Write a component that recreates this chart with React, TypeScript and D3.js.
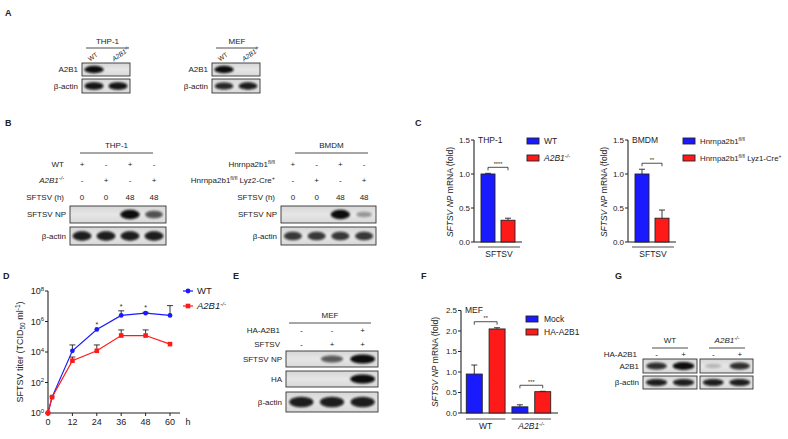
import * as d3 from 'd3';

const FONT = '"Liberation Sans", Arial, sans-serif';
const BLUE = '#1a1aff';
const RED = '#ff1a1a';
const INK = '#222';

// A: knockout check
const aLanes = ['WT', 'A2B1'];
const aThpA2B1 = [1, 0];
const aThpActin = [0.95, 0.95];
const aMefA2B1 = [1, 0];
const aMefActin = [0.85, 0.9];

// B: infection blots
const bWt = ['+', '-', '+', '-'];
const bKo = ['-', '+', '-', '+'];
const bHours = ['0', '0', '48', '48'];
const bThpNP = [0, 0, 1, 0.6];
const bThpActin = [0.9, 0.9, 0.9, 0.9];
const bBmdmNP = [0, 0, 1, 0.2];
const bBmdmActin = [0.75, 0.75, 0.75, 0.75];

// C: qPCR
const cGroup = 'SFTSV';
const cTicks = [0, 0.5, 1.0, 1.5];
const cThpMean = [1.0, 0.32];
const cThpErr = [0.01, 0.03];
const cThpStars = '****';
const cBmdmMean = [1.0, 0.35];
const cBmdmErr = [0.07, 0.12];
const cBmdmStars = '**';

// D: titer time course
const dHours = [0, 2, 12, 24, 36, 48, 60];
const dWt = [1, 11, 1.2e4, 3e5, 2.5e6, 3.5e6, 2.5e6];
const dWtUpper = [null, null, 2.9e4, null, 5e6, 4e6, 1.1e7];
const dKo = [1, 11, 2.7e3, 1.2e4, 1.2e5, 1.2e5, 3.3e4];
const dKoUpper = [null, null, 4.7e3, 2.9e4, 2.8e5, 2.8e5, null];
const dStarHours = [24, 36, 48];
const dXTicks = [0, 12, 24, 36, 48, 60];
const dYExp = [0, 2, 4, 6, 8];

// E: overexpression blot
const eHaA2B1 = ['-', '-', '+'];
const eSftsv = ['-', '+', '+'];
const eNP = [0, 0.55, 1];
const eHA = [0, 0, 1];
const eActin = [0.9, 0.9, 0.9];

// F: rescue qPCR
const fGroups = ['WT', 'A2B1'];
const fSeries = ['Mock', 'HA-A2B1'];
const fMock = [0.95, 0.15];
const fMockErr = [0.22, 0.05];
const fHa = [2.05, 0.52];
const fHaErr = [0.03, 0.01];
const fTicks = [0, 0.5, 1.0, 1.5, 2.0, 2.5];
const fStars = ['**', '***'];

// G: rescue blot
const gHa = ['-', '+'];
const gWtA2B1 = [0.8, 1];
const gKoA2B1 = [0.04, 0.8];
const gWtActin = [0.9, 0.9];
const gKoActin = [0.9, 0.9];

const laneScale = (x0: number, x1: number, n: number) =>
  d3.scaleBand<number>().domain(d3.range(n)).range([x0, x1]).paddingInner(0.08).paddingOuter(0.04);

const KO = ({ size = 5.5 }: { size?: number }) => (
  <tspan fontStyle="italic">A2B1<tspan dy={-3} fontSize={size}>-/-</tspan></tspan>
);

function Blot({ x, y, w, h, values, label }: any) {
  const lane = laneScale(x, x + w, values.length);
  const bw = lane.bandwidth();
  return (
    <g>
      <rect x={x} y={y} width={w} height={h} fill="url(#blotBg)" stroke="#333" strokeWidth={0.9} />
      {values.map((v: number, i: number) =>
        v > 0 ? (
          <ellipse key={i} cx={lane(i)! + bw / 2} cy={y + h / 2} rx={bw * (0.34 + 0.1 * v)} ry={h * (0.13 + 0.15 * v)}
            fill="#080808" opacity={Math.min(1, 0.2 + 0.8 * v)} filter="url(#bandBlur)" />
        ) : null
      )}
      {label && <text x={x - 4} y={y + h / 2} dy="0.35em" textAnchor="end">{label}</text>}
    </g>
  );
}

function SignRow({ x, w, y, signs, label }: any) {
  const lane = laneScale(x, x + w, signs.length);
  return (
    <g>
      {signs.map((s: string, i: number) => (
        <text key={i} x={lane(i)! + lane.bandwidth() / 2} y={y} dy="0.35em" textAnchor="middle">{s}</text>
      ))}
      {label && <text x={x - 6} y={y} dy="0.35em" textAnchor="end">{label}</text>}
    </g>
  );
}

function Header({ x1, x2, y, gap = 5, children }: any) {
  return (
    <g>
      <text x={(x1 + x2) / 2} y={y} textAnchor="middle">{children}</text>
      <line x1={x1} x2={x2} y1={y + gap} y2={y + gap} stroke={INK} strokeWidth={0.8} />
    </g>
  );
}

function Bracket({ x1, x2, y, stars }: any) {
  return (
    <g>
      <path d={`M${x1},${y + 3}V${y}H${x2}V${y + 3}`} fill="none" stroke={INK} strokeWidth={0.8} />
      <text x={(x1 + x2) / 2} y={y - 1.5} textAnchor="middle" fontSize={5.5}>{stars}</text>
    </g>
  );
}

function ErrBar({ x, y0, y1 }: any) {
  return <path d={`M${x},${y0}V${y1}M${x - 3},${y1}H${x + 3}`} stroke={INK} strokeWidth={0.9} fill="none" />;
}

function YLabel({ x, cy }: any) {
  return (
    <text transform={`translate(${x},${cy}) rotate(-90)`} textAnchor="middle" fontSize={8.5}>
      <tspan fontStyle="italic">SFTSV NP</tspan> mRNA (fold)
    </text>
  );
}

function FoldBars({ x0, title, means, errs, stars, legend, legendX, legendSize = 8.5 }: any) {
  const y = d3.scaleLinear().domain([0, 1.5]).range([242, 140]);
  const xb = d3.scaleBand<number>().domain([0, 1]).range([x0, x0 + 48]).paddingInner(0.3).paddingOuter(0.35);
  const colors = [BLUE, RED];
  const cx = (i: number) => xb(i)! + xb.bandwidth() / 2;
  const top = Math.max(...means.map((m: number, i: number) => m + errs[i]));
  return (
    <g>
      <YLabel x={x0 - 21} cy={192} />
      <line x1={x0} x2={x0} y1={y(1.5)} y2={y(0)} stroke={INK} strokeWidth={1.1} />
      <line x1={x0} x2={x0 + 48} y1={y(0)} y2={y(0)} stroke={INK} strokeWidth={1.1} />
      {cTicks.map((t) => (
        <g key={t}>
          <line x1={x0 - 3} x2={x0} y1={y(t)} y2={y(t)} stroke={INK} strokeWidth={1} />
          <text x={x0 - 4} y={y(t)} dy="0.35em" textAnchor="end" fontSize={8}>{d3.format('.1f')(t)}</text>
        </g>
      ))}
      <text x={x0 + 4} y={y(1.5)} dy="0.35em" fontSize={8.5}>{title}</text>
      {means.map((m: number, i: number) => (
        <g key={i}>
          <ErrBar x={cx(i)} y0={y(m)} y1={y(m + errs[i])} />
          <rect x={xb(i)} y={y(m)} width={xb.bandwidth()} height={y(0) - y(m)} fill={colors[i]} stroke={INK} strokeWidth={0.9} />
        </g>
      ))}
      <Bracket x1={cx(0)} x2={cx(1)} y={y(top) - 6} stars={stars} />
      <line x1={x0 + 4} x2={x0 + 46} y1={247} y2={247} stroke={INK} strokeWidth={0.8} />
      <text x={x0 + 25} y={257} textAnchor="middle" fontSize={8.5}>{cGroup}</text>
      {legend.map((lab: any, i: number) => (
        <g key={i} transform={`translate(${legendX},${141 + i * 17})`}>
          <rect x={0} y={-3} width={12} height={6} fill={colors[i]} stroke={INK} strokeWidth={0.9} />
          <text x={17} y={0} dy="0.35em" fontSize={legendSize}>{lab}</text>
        </g>
      ))}
    </g>
  );
}

function TiterChart() {
  const x = d3.scaleLinear().domain([0, 60]).range([48, 170]);
  const y = d3.scaleLog().domain([1, 1e8]).range([413, 291]);
  const line = d3.line<number>().x((_, i) => x(dHours[i])).y((v) => y(v));
  const series = [
    { vals: dWt, up: dWtUpper, color: BLUE, shape: 'circle' },
    { vals: dKo, up: dKoUpper, color: RED, shape: 'square' },
  ];
  return (
    <g>
      <text transform="translate(23,352) rotate(-90)" textAnchor="middle" fontSize={9}>
        SFTSV titer (TCID<tspan dy={2} fontSize={6.5}>50</tspan><tspan dy={-2}> ml</tspan>
        <tspan dy={-3} fontSize={6.5}>-1</tspan><tspan dy={3}>)</tspan>
      </text>
      <line x1={48} x2={48} y1={y(1e8)} y2={y(1)} stroke={INK} strokeWidth={1.1} />
      <line x1={48} x2={180} y1={y(1)} y2={y(1)} stroke={INK} strokeWidth={1.1} />
      {dYExp.map((e) => (
        <g key={e}>
          <line x1={45} x2={48} y1={y(10 ** e)} y2={y(10 ** e)} stroke={INK} />
          <text x={44} y={y(10 ** e)} dy="0.35em" textAnchor="end" fontSize={9}>
            10<tspan dy={-3.5} fontSize={6}>{e}</tspan>
          </text>
        </g>
      ))}
      {dXTicks.map((t) => (
        <g key={t}>
          <line x1={x(t)} x2={x(t)} y1={y(1)} y2={y(1) + 3} stroke={INK} />
          <text x={x(t)} y={y(1) + 12} textAnchor="middle" fontSize={9}>{t}</text>
        </g>
      ))}
      <text x={188} y={y(1) + 12} textAnchor="middle" fontSize={9}>h</text>
      {series.map((s, si) => (
        <g key={si}>
          {s.up.map((u, i) =>
            u ? <ErrBar key={i} x={x(dHours[i])} y0={y(s.vals[i])} y1={y(u)} /> : null
          )}
          <path d={line(s.vals)!} fill="none" stroke={s.color} strokeWidth={1.2} />
          {s.vals.map((v, i) =>
            s.shape === 'circle' ? (
              <circle key={i} cx={x(dHours[i])} cy={y(v)} r={2.4} fill={s.color} />
            ) : (
              <rect key={i} x={x(dHours[i]) - 2.3} y={y(v) - 2.3} width={4.6} height={4.6} fill={s.color} />
            )
          )}
        </g>
      ))}
      {dStarHours.map((h) => {
        const i = dHours.indexOf(h);
        const top = dWtUpper[i] ?? dWt[i];
        return <text key={h} x={x(h)} y={y(top) - 2} textAnchor="middle" fontSize={7}>*</text>;
      })}
      {series.map((s, si) => (
        <g key={si} transform={`translate(183,${291 + si * 15})`}>
          <line x1={0} x2={10} stroke={s.color} strokeWidth={1.2} />
          {s.shape === 'circle' ? <circle cx={5} r={2.4} fill={s.color} /> : <rect x={2.7} y={-2.3} width={4.6} height={4.6} fill={s.color} />}
          <text x={14} dy="0.35em" fontSize={9.5}>{si === 0 ? 'WT' : <KO size={6} />}</text>
        </g>
      ))}
    </g>
  );
}

function RescueBars() {
  const y = d3.scaleLinear().domain([0, 2.5]).range([413, 310.5]);
  const x0 = d3.scaleBand<string>().domain(fGroups).range([464, 553]).paddingInner(0.05);
  const x1 = d3.scaleBand<string>().domain(fSeries).range([0, x0.bandwidth()]).paddingInner(0.3).paddingOuter(0.1);
  const colors = [BLUE, RED];
  const vals = [fMock, fHa];
  const errs = [fMockErr, fHaErr];
  return (
    <g>
      <YLabel x={438} cy={362} />
      <line x1={461} x2={461} y1={y(2.5)} y2={y(0)} stroke={INK} strokeWidth={1.1} />
      <line x1={461} x2={558} y1={y(0)} y2={y(0)} stroke={INK} strokeWidth={1.1} />
      {fTicks.map((t) => (
        <g key={t}>
          <line x1={458} x2={461} y1={y(t)} y2={y(t)} stroke={INK} />
          <text x={457} y={y(t)} dy="0.35em" textAnchor="end" fontSize={8}>{d3.format('.1f')(t)}</text>
        </g>
      ))}
      <text x={465} y={y(2.5)} dy="0.35em" fontSize={8.5}>MEF</text>
      {fGroups.map((g, gi) => {
        const cx = (si: number) => x0(g)! + x1(fSeries[si])! + x1.bandwidth() / 2;
        const top = Math.max(fMock[gi] + fMockErr[gi], fHa[gi] + fHaErr[gi]);
        return (
          <g key={g}>
            {fSeries.map((s, si) => (
              <g key={s}>
                <ErrBar x={cx(si)} y0={y(vals[si][gi])} y1={y(vals[si][gi] + errs[si][gi])} />
                <rect x={x0(g)! + x1(s)!} y={y(vals[si][gi])} width={x1.bandwidth()} height={y(0) - y(vals[si][gi])}
                  fill={colors[si]} stroke={INK} strokeWidth={0.9} />
              </g>
            ))}
            <Bracket x1={cx(0)} x2={cx(1)} y={y(top) - 6} stars={fStars[gi]} />
            <line x1={x0(g)! + 2} x2={x0(g)! + x0.bandwidth() - 2} y1={419} y2={419} stroke={INK} strokeWidth={0.8} />
            <text x={x0(g)! + x0.bandwidth() / 2} y={429} textAnchor="middle" fontSize={8.5}>
              {gi === 0 ? g : <KO />}
            </text>
          </g>
        );
      })}
      {fSeries.map((s, si) => (
        <g key={s} transform={`translate(526,${319 + si * 13})`}>
          <rect x={0} y={-3} width={12} height={6} fill={colors[si]} stroke={INK} strokeWidth={0.9} />
          <text x={18} dy="0.35em" fontSize={8.5}>{s}</text>
        </g>
      ))}
    </g>
  );
}

export default function App() {
  const aThp = laneScale(82, 130, 2);
  const aMef = laneScale(212, 260, 2);
  return (
    <svg width={788} height={439} style={{ position: 'absolute', left: 0, top: 0, background: '#fff' }}
      fontFamily={FONT} fontSize={8} fill={INK}>
      <defs>
        <filter id="bandBlur" x="-30%" y="-80%" width="160%" height="260%">
          <feGaussianBlur stdDeviation={1} />
        </filter>
        <linearGradient id="blotBg" x1="0" y1="0" x2="0" y2="1">
          <stop offset="0" stopColor="#d6d6d6" />
          <stop offset="0.5" stopColor="#e6e6e6" />
          <stop offset="1" stopColor="#d8d8d8" />
        </linearGradient>
      </defs>

      {/* panel letters */}
      <g fontWeight="bold" fontSize={9}>
        <text x={5} y={16}>A</text>
        <text x={5} y={126}>B</text>
        <text x={415} y={126}>C</text>
        <text x={3} y={279}>D</text>
        <text x={233} y={279}>E</text>
        <text x={421} y={279}>F</text>
        <text x={615} y={279}>G</text>
      </g>

      {/* A */}
      <Header x1={86} x2={129} y={44} gap={4}>THP-1</Header>
      <Header x1={216} x2={258} y={44} gap={4}>MEF</Header>
      {[aThp, aMef].map((sc, k) => (
        <g key={k}>
          {aLanes.map((l, i) => (
            <text key={l} transform={`translate(${sc(i)! + sc.bandwidth() / 2 - 4},${61.5}) rotate(-35)`} fontSize={6.5}>
              {i === 0 ? 'WT' : <tspan fontStyle="italic">A2B1<tspan dy={-2.5} fontSize={4.5}>-/-</tspan></tspan>}
            </text>
          ))}
        </g>
      ))}
      <Blot x={82} y={63} w={48} h={13} values={aThpA2B1} label="A2B1" />
      <Blot x={82} y={79} w={48} h={14} values={aThpActin} label="β-actin" />
      <Blot x={212} y={63} w={48} h={13} values={aMefA2B1} label="A2B1" />
      <Blot x={212} y={79} w={48} h={14} values={aMefActin} label="β-actin" />

      {/* B */}
      <Header x1={80} x2={153} y={148}>THP-1</Header>
      <SignRow x={70} w={96} y={164} signs={bWt} label="WT" />
      <SignRow x={70} w={96} y={180} signs={bKo} label={<KO />} />
      <SignRow x={70} w={96} y={197} signs={bHours} label="SFTSV (h)" />
      <Blot x={70} y={206} w={96} h={17} values={bThpNP} label="SFTSV NP" />
      <Blot x={70} y={227} w={96} h={18} values={bThpActin} label="β-actin" />

      <Header x1={295} x2={368} y={148}>BMDM</Header>
      <SignRow x={281} w={95} y={164} signs={bWt}
        label={<>Hnrnpa2b1<tspan dy={-2.5} fontSize={5.5}>fl/fl</tspan></>} />
      <SignRow x={281} w={95} y={180} signs={bKo}
        label={<>Hnrnpa2b1<tspan dy={-2.5} fontSize={5.5}>fl/fl</tspan><tspan dy={2.5}> Lyz2-Cre</tspan><tspan dy={-2.5} fontSize={5.5}>+</tspan></>} />
      <SignRow x={281} w={95} y={197} signs={bHours} label="SFTSV (h)" />
      <Blot x={281} y={206} w={95} h={17} values={bBmdmNP} label="SFTSV NP" />
      <Blot x={281} y={227} w={95} h={18} values={bBmdmActin} label="β-actin" />

      {/* C */}
      <FoldBars x0={474} title="THP-1" means={cThpMean} errs={cThpErr} stars={cThpStars} legendX={527}
        legend={['WT', <KO key="k" />]} />
      <FoldBars x0={628} title="BMDM" means={cBmdmMean} errs={cBmdmErr} stars={cBmdmStars} legendX={683} legendSize={7.8}
        legend={[
          <>Hnrnpa2b1<tspan dy={-3} fontSize={5}>fl/fl</tspan></>,
          <>Hnrnpa2b1<tspan dy={-3} fontSize={5}>fl/fl</tspan><tspan dy={3}> Lyz1-Cre</tspan><tspan dy={-3} fontSize={5}>+</tspan></>,
        ]} />

      {/* D */}
      <TiterChart />

      {/* E */}
      <Header x1={289} x2={371} y={318}>MEF</Header>
      <SignRow x={286} w={92} y={330} signs={eHaA2B1} label="HA-A2B1" />
      <SignRow x={286} w={92} y={344} signs={eSftsv} label="SFTSV" />
      <Blot x={286} y={351} w={92} h={16} values={eNP} label="SFTSV NP" />
      <Blot x={286} y={371} w={92} h={16} values={eHA} label="HA" />
      <Blot x={286} y={392} w={92} h={20} values={eActin} label="β-actin" />

      {/* F */}
      <RescueBars />

      {/* G */}
      <Header x1={652} x2={688} y={343}>WT</Header>
      <Header x1={709} x2={745} y={343}><KO /></Header>
      <SignRow x={643} w={54} y={354} signs={gHa} label="HA-A2B1" />
      <SignRow x={700} w={53} y={354} signs={gHa} />
      <Blot x={643} y={359} w={54} h={14} values={gWtA2B1} label="A2B1" />
      <Blot x={700} y={359} w={53} h={14} values={gKoA2B1} />
      <Blot x={643} y={376} w={54} h={13} values={gWtActin} label="β-actin" />
      <Blot x={700} y={376} w={53} h={13} values={gKoActin} />
    </svg>
  );
}
